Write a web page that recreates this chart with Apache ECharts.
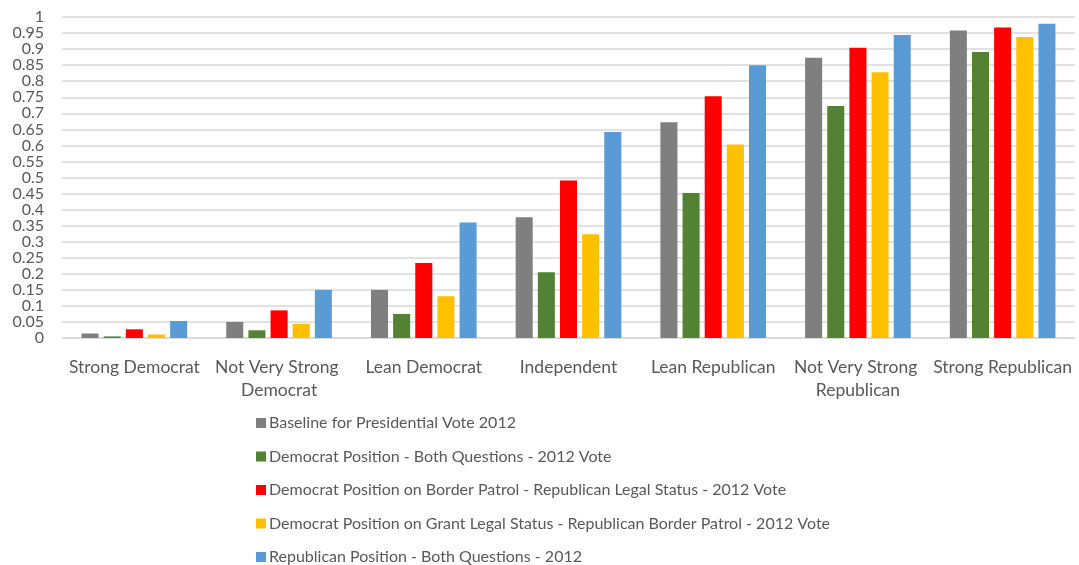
<!DOCTYPE html>
<html>
<head>
<meta charset="utf-8">
<script src="https://cdn.jsdelivr.net/npm/echarts@6/dist/echarts.min.js"></script>
<style>
  html, body { margin: 0; padding: 0; background: #ffffff; }
  #chart { width: 1079px; height: 565px; }
</style>
</head>
<body>
<div id="chart"></div>
<script>
// Party identification groups along the x axis
const categories = [
  'Strong Democrat',
  'Not Very Strong Democrat',
  'Lean Democrat',
  'Independent',
  'Lean Republican',
  'Not Very Strong Republican',
  'Strong Republican'
];

// Series names shown in the legend
const seriesNames = [
  'Baseline for Presidential Vote 2012',
  'Democrat Position - Both Questions - 2012 Vote',
  'Democrat Position on Border Patrol - Republican Legal Status - 2012 Vote',
  'Democrat Position on Grant Legal Status - Republican Border Patrol - 2012 Vote',
  'Republican Position - Both Questions - 2012'
];

// Share voting Republican, per group
const baseline       = [0.014, 0.050, 0.150, 0.376, 0.672, 0.873, 0.958];
const demBoth        = [0.005, 0.024, 0.075, 0.205, 0.452, 0.723, 0.891];
const demBorderRepLS = [0.027, 0.086, 0.234, 0.491, 0.753, 0.904, 0.967];
const demLSRepBorder = [0.011, 0.044, 0.130, 0.323, 0.603, 0.828, 0.938];
const repBoth        = [0.053, 0.150, 0.360, 0.642, 0.850, 0.944, 0.979];

const seriesValues = [baseline, demBoth, demBorderRepLS, demLSRepBorder, repBoth];
const seriesColors = ['#7f7f7f', '#548235', '#ff0000', '#ffc000', '#5b9bd5'];

const fontFamily = 'Lato, "Open Sans", sans-serif';
const textColor = '#595959';

const chart = echarts.init(document.getElementById('chart'), null, { renderer: 'canvas' });

chart.setOption({
  animation: false,
  backgroundColor: '#ffffff',
  textStyle: { fontFamily: fontFamily },
  grid: { left: 62, right: 4, top: 17, bottom: 227, containLabel: false },
  legend: {
    orient: 'vertical',
    left: 256,
    top: 415,
    width: 700,
    height: 200,
    padding: 0,
    icon: 'rect',
    itemWidth: 10,
    itemHeight: 10,
    itemGap: 17.5,
    textStyle: { color: textColor, fontSize: 16, fontFamily: fontFamily, lineHeight: 16, padding: [0, 0, 0, -2] },
    data: seriesNames
  },
  xAxis: {
    type: 'category',
    data: categories,
    axisLine: { show: true, lineStyle: { color: '#d9d9d9', width: 1.5 } },
    axisTick: { show: false },
    axisLabel: {
      color: textColor,
      fontSize: 17.5,
      margin: 18,
      lineHeight: 23,
      width: 142,
      overflow: 'break',
      interval: 0
    }
  },
  yAxis: {
    type: 'value',
    min: 0,
    max: 1,
    interval: 0.05,
    axisLine: { show: false },
    axisTick: { show: false },
    splitLine: { lineStyle: { color: '#d9d9d9', width: 1.5 } },
    axisLabel: { color: textColor, fontSize: 16, margin: 18 }
  },
  series: seriesNames.map((name, i) => ({
    name: name,
    type: 'bar',
    data: seriesValues[i],
    itemStyle: { color: seriesColors[i] },
    barGap: '30%',
    barCategoryGap: '27%'
  }))
});
</script>
</body>
</html>
